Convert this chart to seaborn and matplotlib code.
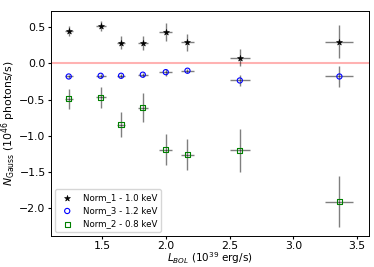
import numpy as np
import pandas as pd
import matplotlib
matplotlib.use("Agg")
import matplotlib.pyplot as plt
import seaborn as sns

# Luminosity (10^39 erg/s) and its error
L_bol = [1.24, 1.49, 1.65, 1.82, 2.00, 2.17, 2.58, 3.36]
L_err = [0.03, 0.04, 0.03, 0.04, 0.05, 0.05, 0.08, 0.11]

# Gaussian normalisations (10^46 photons/s)
norm1 = [0.45, 0.52, 0.285, 0.28, 0.43, 0.29, 0.08, 0.30]
norm1_err = [0.07, 0.065, 0.09, 0.10, 0.125, 0.12, 0.115, 0.23]
norm3 = [-0.18, -0.17, -0.17, -0.155, -0.12, -0.10, -0.235, -0.18]
norm3_err = [0.02, 0.03, 0.03, 0.03, 0.05, 0.03, 0.07, 0.14]
norm2 = [-0.49, -0.47, -0.845, -0.61, -1.19, -1.26, -1.20, -1.91]
norm2_err = [0.14, 0.14, 0.17, 0.195, 0.22, 0.22, 0.30, 0.35]

labels = ["Norm_1 - 1.0 keV", "Norm_3 - 1.2 keV", "Norm_2 - 0.8 keV"]

plt.rcParams['font.size'] = 7.8
plt.rcParams['xtick.major.size'] = 2.2
plt.rcParams['ytick.major.size'] = 2.2
plt.rcParams['xtick.major.pad'] = 1.5
plt.rcParams['ytick.major.pad'] = 1.5
plt.rcParams['axes.linewidth'] = 0.7

fig = plt.figure(figsize=(3.74, 2.67), dpi=100)
ax = fig.add_axes([0.136, 0.115, 0.850, 0.845])

ax.axhline(0, color='red', alpha=0.3, lw=1.5, zorder=1)

series = [
    (norm1, norm1_err, '*', 'k', 'k', labels[0]),
    (norm3, norm3_err, 'o', 'none', 'b', labels[1]),
    (norm2, norm2_err, 's', 'none', 'g', labels[2]),
]

for y, yerr, m, fc, ec, lab in series:
    ax.errorbar(L_bol, y, xerr=L_err, yerr=yerr, fmt='none',
                ecolor='k', alpha=0.5, lw=1, zorder=2)
    df = pd.DataFrame({'L': L_bol, 'N': y})
    sns.scatterplot(data=df, x='L', y='N', marker=m, s=14 if m != '*' else 20,
                    facecolor=fc, edgecolor=ec, linewidth=0.8 if m != '*' else 0.4,
                    label=lab, ax=ax, zorder=3)

ax.set_xlim(1.10, 3.59)
ax.set_ylim(-2.39, 0.73)
ax.set_xticks([1.5, 2.0, 2.5, 3.0, 3.5])
ax.set_yticks([-2.0, -1.5, -1.0, -0.5, 0.0, 0.5])
ax.set_xlabel(r'$L_{BOL}$ (10$^{39}$ erg/s)', labelpad=-1, fontsize=7.5)
ax.set_ylabel(r'$N_{\rm Gauss}$ (10$^{46}$ photons/s)', labelpad=1)
ax.legend(loc='lower left', fontsize=6.2)

fig.savefig('out.png', dpi=100)
